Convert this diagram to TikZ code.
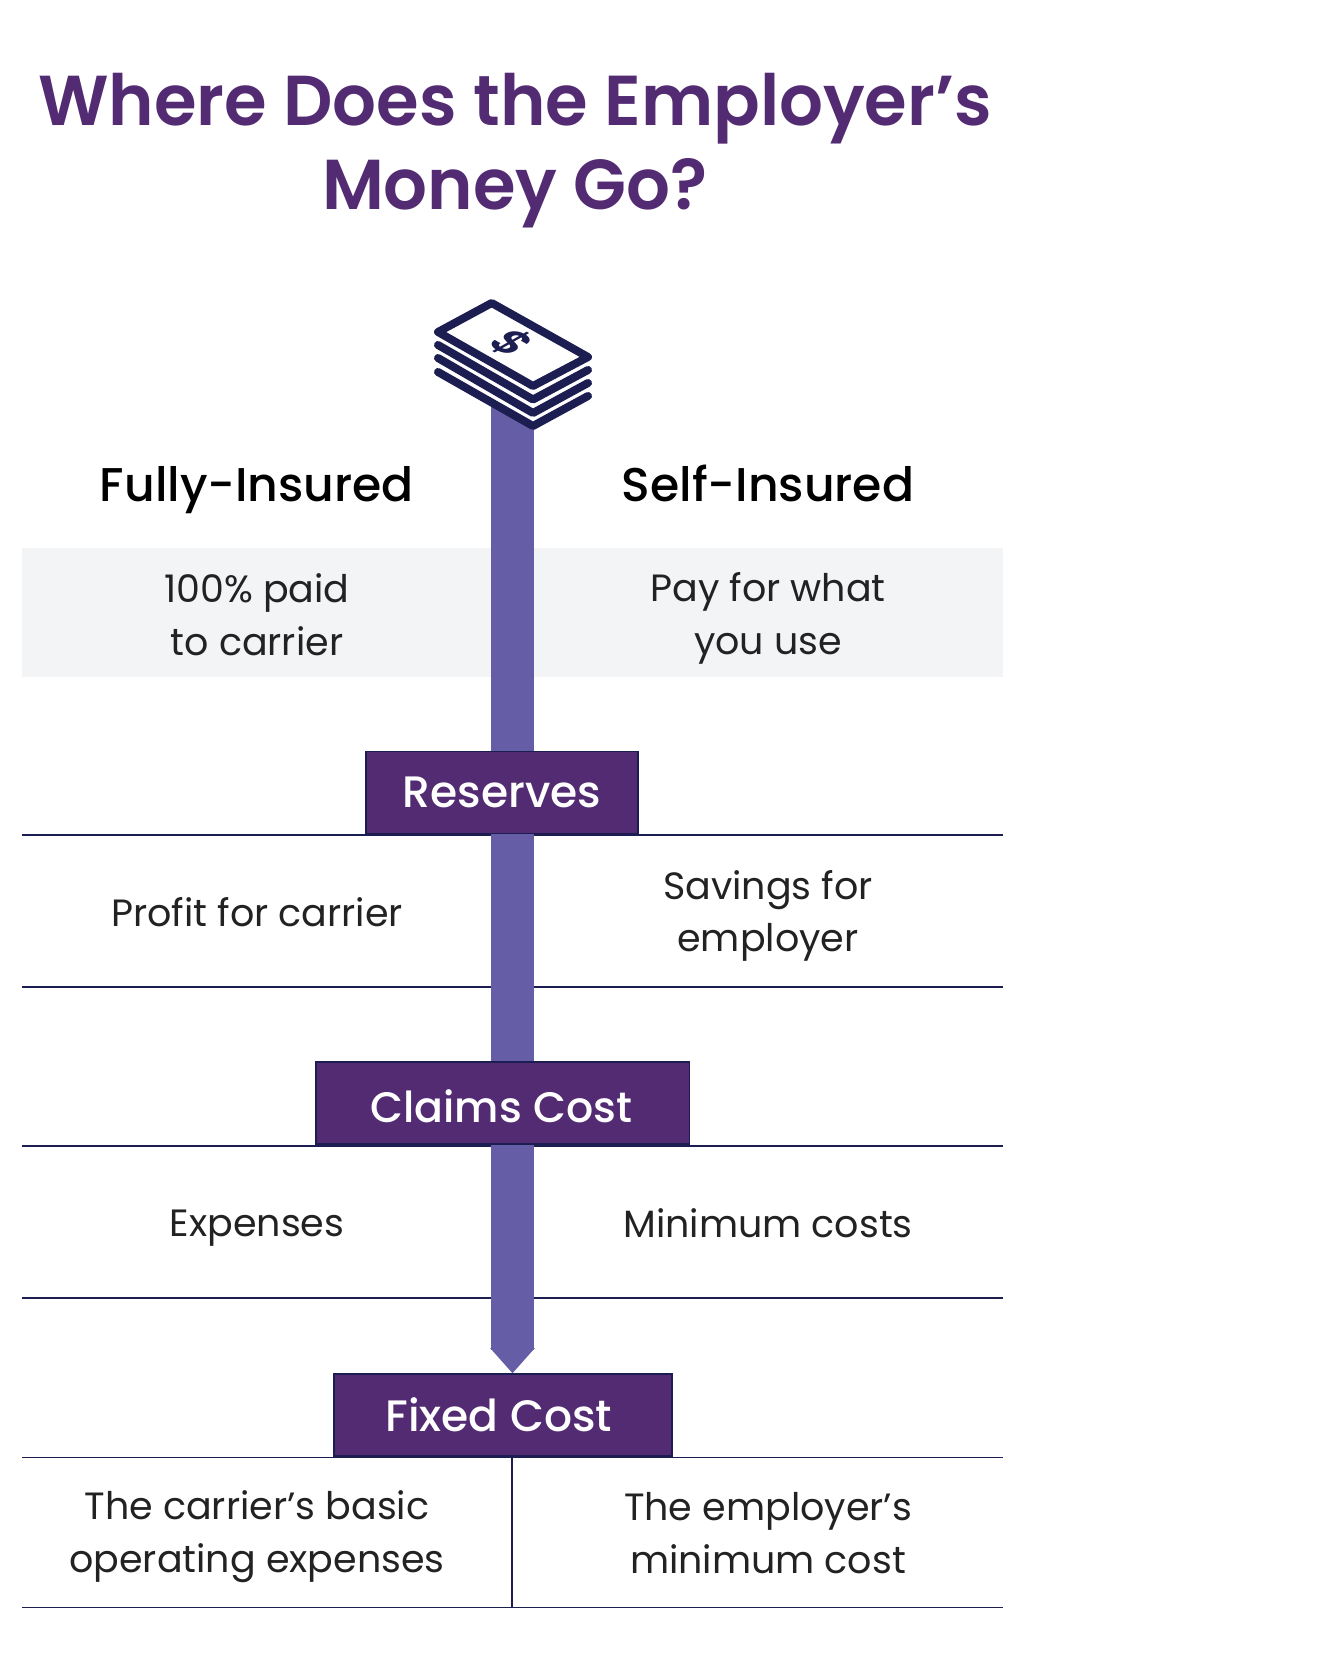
\documentclass[tikz,border=0pt]{standalone}
\usepackage{fontspec}
\setmainfont{Poppins}[BoldFont={Poppins Medium}]
\newfontfamily\titlefont{Poppins SemiBold}[FakeStretch=0.975]
\usetikzlibrary{arrows.meta}
\definecolor{plum}{HTML}{532B72}
\definecolor{navy}{HTML}{1C1D50}
\definecolor{shaftblue}{HTML}{655DA6}
\definecolor{bandgrey}{HTML}{F3F4F6}
\definecolor{ink}{HTML}{222222}
\begin{document}
\begin{tikzpicture}[x=0.75pt,y=-0.75pt]

\tikzset{titletext/.style={anchor=base, text=plum, font=\fontsize{53}{60}\titlefont}}
\tikzset{headtext/.style={anchor=base, text=black, font=\fontsize{35.5}{40}\selectfont\bfseries}}
\tikzset{celltext/.style={align=center, text=ink, font=\fontsize{28.5}{39.6}\selectfont}}
\tikzset{stagebox/.style={draw=navy, fill=plum, line width=1pt, text=white, inner sep=0pt, minimum height=61.5pt, text height=22pt, text depth=0pt, font=\fontsize{33}{38}\selectfont\bfseries}}
\tikzset{rule/.style={navy, line width=1.2pt}}
\tikzset{billedge/.style={navy, line width=6pt, line join=round, line cap=round}}

\useasboundingbox (0,0) rectangle (1327,1656);

% figure title
\node[titletext] at (515, 125) (titleA) {Where Does the Employer’s};
\node[titletext] at (515, 209) (titleB) {Money Go?};

% grey band and rules
\fill[bandgrey] (22, 548) rectangle (1003, 677);
\foreach \y in {835, 987, 1146, 1298, 1457.5, 1607.5}
  \draw[rule] (22, \y) -- (1003, \y);
\draw[rule, line width=0.9pt] (512, 1458) -- (512, 1607);

% money flow
\node[stagebox, minimum width=253.5pt, text height=24.5pt] at (503, 1415) (fixed) {Fixed Cost\kern6.4pt};
\coordinate (bills) at (512.5, 395);
\draw[shaftblue, line width=32.4pt, -{Triangle[width=32.4pt, length=19pt]}] (bills) -- (bills |- fixed.north);

% stages
\node[stagebox, minimum width=204pt] at (502, 792.5) (reserves) {Reserves};
\node[stagebox, minimum width=280pt, text height=29pt, font=\fontsize{32}{38}\selectfont\bfseries] at (502.5, 1103) (claims) {Claims Cost\kern2pt};

% stack of bills
\fill[white] (491.7, 303) -- (588, 357) -- (588, 396) -- (533, 426) -- (438, 372) -- (438, 332) -- cycle;
\draw[billedge] (438, 345) -- (533, 399.5) -- (588, 370);
\draw[billedge] (438, 358) -- (533, 413) -- (588, 383);
\draw[billedge] (438, 372) -- (533, 426) -- (588, 396);
\draw[billedge] (438, 332) -- (533, 386) -- (588, 357) -- (491.7, 303) -- cycle;
\begin{scope}[cm={0.87,-0.5,0.87,0.49,(384pt,-257.25pt)}]
  \node[transform shape, text=navy, font=\fontsize{34}{34}\titlefont, inner sep=0pt] at (0, 0) (dollar) {\$};
\end{scope}

% columns
\node[headtext] at (257, 501) (fully) {Fully-Insured};
\node[headtext] at (768, 501) (self) {Self-Insured};

\node[celltext] at (257, 615) (paid) {100\% paid\\to carrier};
\node[celltext] at (768, 618) (use) {Pay for what\\you use};
\node[celltext] at (257, 912) (profit) {Profit for carrier};
\node[celltext] at (768, 916) (savings) {Savings for\\employer};
\node[celltext] at (257, 1228) (expenses) {Expenses};
\node[celltext] at (768, 1223) (minimum) {Minimum costs};
\node[celltext] at (257, 1537) (basic) {The carrier’s basic\\operating expenses};
\node[celltext] at (768, 1533) (employer) {The employer’s\\minimum cost};

\end{tikzpicture}
\end{document}
